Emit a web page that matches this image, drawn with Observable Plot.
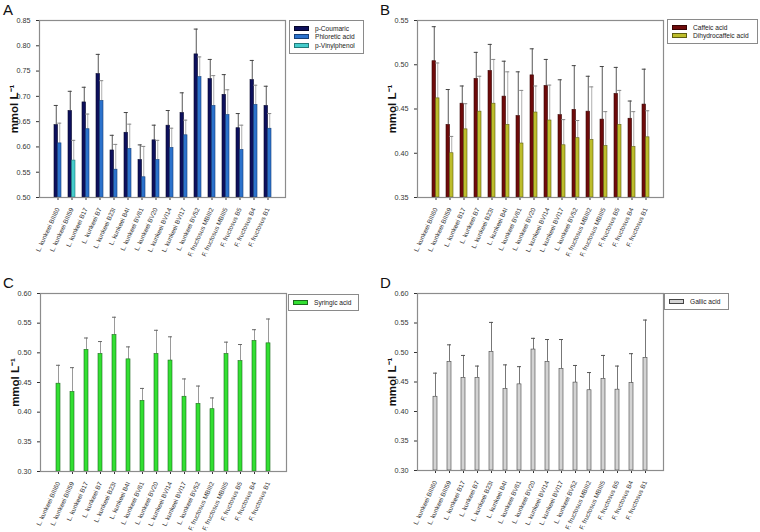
<!DOCTYPE html>
<html>
<head>
<meta charset="utf-8">
<script src="https://cdn.jsdelivr.net/npm/d3@7"></script>
<script src="https://cdn.jsdelivr.net/npm/@observablehq/plot@0.6"></script>
<style>
  html, body { margin: 0; padding: 0; background: #fff; }
  #root { position: relative; width: 760px; height: 532px; overflow: hidden; background: #fff; font-family: "Liberation Sans", Arial, sans-serif; }
  .pl { position: absolute; }
  .letter { position: absolute; font-size: 15px; color: #111; line-height: 1; }
  .legend { position: absolute; border: 1px solid #8a8a8a; background: #fff; box-sizing: border-box; padding: 3px 4px; }
  .legend .row { display: flex; align-items: center; height: 8.5px; font-size: 6.6px; color: #222; white-space: nowrap; }
  .legend .sw { width: 15px; height: 5px; margin-right: 6px; box-sizing: border-box; border: 0.7px solid #333; }
  svg [aria-label="y-axis label"] text, svg [aria-label="y-axis label"] { font-weight: bold; font-size: 11.5px; fill: #111; }
  svg [aria-label="x-axis tick label"] { font-size: 6.4px; }
</style>
</head>
<body>
<div id="root"></div>
<script>
// ---------- data ----------
const strains = [
  "L. kunkeei BIII60", "L. kunkeei BIII59", "L. kunkeei B17", "L. kunkeei B7",
  "L. kunkeei B23I", "L. kunkeei B4I", "L. kunkeei BV61", "L. kunkeei BV20",
  "L. kunkeei BVI14", "L. kunkeei BVI17", "L. kunkeei BV52", "F. fructosus MBIII2",
  "F. fructosus MBIII5", "F. fructosus B5", "F. fructosus B4", "F. fructosus B1"
];

// Panel A
const pCoumaric    = [0.643,0.671,0.688,0.744,0.593,0.628,0.574,0.613,0.642,0.667,0.783,0.734,0.703,0.637,0.732,0.681];
const pCoumaricErr = [0.039,0.039,0.030,0.039,0.030,0.040,0.030,0.030,0.030,0.040,0.050,0.039,0.040,0.029,0.039,0.039];
const phloretic    = [0.607,null,0.635,0.691,0.555,0.596,0.540,0.574,0.598,0.623,0.738,0.681,0.663,0.594,0.683,0.636];
const phloreticErr = [0.040,null,0.030,0.040,0.050,0.049,0.061,0.039,0.039,0.030,0.040,0.060,0.050,0.049,0.039,0.030];
const vinylphenol    = [null,0.573,null,null,null,null,null,null,null,null,null,null,null,null,null,null];
const vinylphenolErr = [null,0.040,null,null,null,null,null,null,null,null,null,null,null,null,null,null];

// Panel B
const caffeic       = [0.504,0.432,0.456,0.484,0.493,0.464,0.442,0.488,0.476,0.443,0.449,0.447,0.438,0.467,0.439,0.455];
const caffeicErr    = [0.039,0.040,0.020,0.030,0.030,0.040,0.050,0.030,0.030,0.040,0.050,0.040,0.060,0.030,0.020,0.040];
const dihydrocaffeic    = [0.462,0.400,0.427,0.447,0.456,0.432,0.411,0.446,0.437,0.409,0.417,0.415,0.408,0.432,0.407,0.418];
const dihydrocaffeicErr = [0.040,0.019,0.029,0.040,0.050,0.060,0.060,0.030,0.040,0.029,0.020,0.060,0.039,0.039,0.040,0.030];

// Panel C
const syringic    = [0.448,0.434,0.505,0.498,0.530,0.489,0.419,0.498,0.487,0.426,0.414,0.405,0.498,0.486,0.520,0.516];
const syringicErr = [0.031,0.041,0.020,0.021,0.030,0.021,0.021,0.040,0.040,0.030,0.030,0.019,0.020,0.028,0.019,0.041];

// Panel D
const gallic    = [0.425,0.484,0.457,0.457,0.501,0.438,0.446,0.505,0.484,0.472,0.449,0.436,0.455,0.437,0.448,0.491];
const gallicErr = [0.040,0.029,0.038,0.020,0.050,0.041,0.030,0.019,0.038,0.050,0.029,0.030,0.040,0.040,0.050,0.064];

const ticksA = [0.50,0.55,0.60,0.65,0.70,0.75,0.80,0.85];
const ticksB = [0.35,0.40,0.45,0.50,0.55];
const ticksCD = [0.30,0.35,0.40,0.45,0.50,0.55,0.60];

const yLabel = "mmol L\u207B\u00B9";

// ---------- drawing ----------
const root = document.getElementById("root");

function panel(cfg) {
  const {left, top, width, height, mL, mR, mT, mB, domain, ticks, series, nSlots, capW, letter, legend} = cfg;
  const n = strains.length;
  const plotW = width - mL - mR;
  const pI = cfg.pI, pO = 0.5 + pI / 2;
  const step = plotW / (n - pI + 2 * pO);
  const bw = step * (1 - pI);
  const slotW = bw / nSlots;

  const marks = [];
  for (const s of series) {
    const rows = [];
    strains.forEach((st, i) => {
      if (s.values[i] != null) rows.push({strain: st, value: s.values[i], top: s.values[i] + s.errs[i]});
    });
    const k = s.slot;
    const dx = (k + 0.5) * slotW - bw / 2;
    marks.push(Plot.ruleX(rows, {x: "strain", y1: "value", y2: "top", stroke: s.errColor, strokeWidth: 1, dx}));
    marks.push(Plot.tickY(rows, {x: "strain", y: "top", stroke: s.capColor, strokeWidth: 1, dx,
      insetLeft: Math.max(0, (bw - capW) / 2), insetRight: Math.max(0, (bw - capW) / 2)}));
    marks.push(Plot.barY(rows, {x: "strain", y1: domain[0], y2: "value", fill: s.fill, stroke: s.stroke, strokeWidth: 0.6,
      insetLeft: k * slotW, insetRight: bw - (k + 1) * slotW}));
  }
  marks.push(Plot.frame({stroke: "#8c8c8c", strokeWidth: 1.2}));

  const svg = Plot.plot({
    width, height, marginLeft: mL, marginRight: mR, marginTop: mT, marginBottom: mB,
    style: {fontFamily: "'Liberation Sans', Arial, sans-serif", fontSize: "7.2px", color: "#333", background: "transparent", overflow: "visible"},
    x: {domain: strains, paddingInner: pI, paddingOuter: pO, align: 0.5, tickRotate: -65, tickSize: 3, label: null},
    y: {domain, ticks, tickFormat: ".2f", tickSize: 3, label: yLabel, labelAnchor: "center", labelOffset: cfg.labelOffset, labelArrow: "none"},
    marks
  });
  svg.classList.add("pl");
  svg.style.left = left + "px";
  svg.style.top = top + "px";
  root.appendChild(svg);

  const L = document.createElement("div");
  L.className = "letter";
  L.textContent = letter.text;
  L.style.left = letter.x + "px";
  L.style.top = letter.y + "px";
  root.appendChild(L);

  const lg = document.createElement("div");
  lg.className = "legend";
  lg.style.left = legend.x + "px";
  lg.style.top = legend.y + "px";
  lg.style.width = legend.w + "px";
  for (const s of legend.items) {
    const r = document.createElement("div");
    r.className = "row";
    const sw = document.createElement("span");
    sw.className = "sw";
    sw.style.background = s.fill;
    sw.style.borderColor = s.stroke;
    r.appendChild(sw);
    r.appendChild(document.createTextNode(s.name));
    lg.appendChild(r);
  }
  root.appendChild(lg);
}

const sCoum = {name: "p-Coumaric", values: pCoumaric, errs: pCoumaricErr, fill: "#0d105c", stroke: "#05062a", errColor: "#555", capColor: "#444", slot: 0};
const sPhlo = {name: "Phloretic acid", values: phloretic, errs: phloreticErr, fill: "#2b72cc", stroke: "#153f78", errColor: "#b0b0b0", capColor: "#888", slot: 1};
const sViny = {name: "p-Vinylphenol", values: vinylphenol, errs: vinylphenolErr, fill: "#45cccc", stroke: "#237a7a", errColor: "#b0b0b0", capColor: "#888", slot: 1};

panel({
  left: 0, top: 0, width: 286, height: 266, mL: 39, mR: 1, mT: 20, mB: 69,
  domain: [0.5, 0.85], ticks: ticksA, series: [sCoum, sPhlo, sViny], nSlots: 2, pI: 0.52, capW: 4, labelOffset: 30,
  letter: {text: "A", x: 3, y: 2},
  legend: {x: 289, y: 20, w: 75, items: [sCoum, sPhlo, sViny]}
});

const sCaf = {name: "Caffeic acid", values: caffeic, errs: caffeicErr, fill: "#6e0b0b", stroke: "#380404", errColor: "#555", capColor: "#444", slot: 0};
const sDih = {name: "Dihydrocaffeic acid", values: dihydrocaffeic, errs: dihydrocaffeicErr, fill: "#bdbd2c", stroke: "#5e5e12", errColor: "#b0b0b0", capColor: "#888", slot: 1};

panel({
  left: 380, top: 0, width: 284, height: 266, mL: 37, mR: 1, mT: 20, mB: 69,
  domain: [0.35, 0.55], ticks: ticksB, series: [sCaf, sDih], nSlots: 2, pI: 0.52, capW: 4, labelOffset: 30,
  letter: {text: "B", x: 380, y: 2},
  legend: {x: 667, y: 19, w: 91, items: [sCaf, sDih]}
});

const sSyr = {name: "Syringic acid", values: syringic, errs: syringicErr, fill: "#33e033", stroke: "#1b6a1b", errColor: "#9a9a9a", capColor: "#666", slot: 0};

panel({
  left: 0, top: 273, width: 287, height: 259, mL: 40, mR: 1, mT: 20, mB: 61,
  domain: [0.30, 0.60], ticks: ticksCD, series: [sSyr], nSlots: 1, pI: 0.72, capW: 4, labelOffset: 30,
  letter: {text: "C", x: 3, y: 275},
  legend: {x: 288, y: 294, w: 71, items: [sSyr]}
});

const sGal = {name: "Gallic acid", values: gallic, errs: gallicErr, fill: "#d3d3d3", stroke: "#444", errColor: "#777", capColor: "#555", slot: 0};

panel({
  left: 380, top: 273, width: 284, height: 259, mL: 37, mR: 1, mT: 20, mB: 62,
  domain: [0.30, 0.60], ticks: ticksCD, series: [sGal], nSlots: 1, pI: 0.75, capW: 4, labelOffset: 30,
  letter: {text: "D", x: 380, y: 275},
  legend: {x: 664, y: 293, w: 65, items: [sGal]}
});
</script>
</body>
</html>
